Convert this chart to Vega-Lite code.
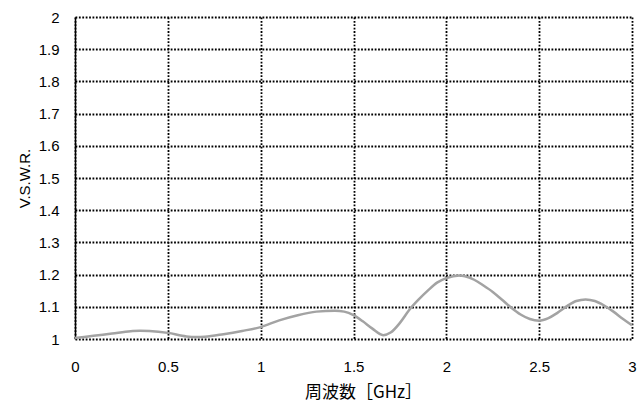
{
  "$schema": "https://vega.github.io/schema/vega-lite/v6.json",
  "width": 557,
  "height": 322,
  "autosize": {"type": "none"},
  "padding": {"left": 75, "top": 17, "right": 6, "bottom": 64},
  "background": "white",
  "config": {
    "view": {"stroke": null},
    "font": "Liberation Sans"
  },
  "data": {
    "values": [
      {"f": 0, "v": 1.003},
      {"f": 0.1, "v": 1.010},
      {"f": 0.2, "v": 1.017},
      {"f": 0.3, "v": 1.024},
      {"f": 0.35, "v": 1.026},
      {"f": 0.4, "v": 1.025},
      {"f": 0.5, "v": 1.019},
      {"f": 0.6, "v": 1.008},
      {"f": 0.65, "v": 1.006},
      {"f": 0.7, "v": 1.007},
      {"f": 0.8, "v": 1.015},
      {"f": 0.9, "v": 1.025},
      {"f": 1.0, "v": 1.037},
      {"f": 1.1, "v": 1.058},
      {"f": 1.2, "v": 1.074},
      {"f": 1.3, "v": 1.085},
      {"f": 1.4, "v": 1.088},
      {"f": 1.45, "v": 1.085},
      {"f": 1.5, "v": 1.074},
      {"f": 1.55, "v": 1.055},
      {"f": 1.6, "v": 1.033},
      {"f": 1.66, "v": 1.012},
      {"f": 1.7, "v": 1.020},
      {"f": 1.75, "v": 1.050},
      {"f": 1.8, "v": 1.090},
      {"f": 1.85, "v": 1.122},
      {"f": 1.9, "v": 1.150},
      {"f": 1.95, "v": 1.175},
      {"f": 2.0, "v": 1.189},
      {"f": 2.07, "v": 1.197},
      {"f": 2.1, "v": 1.195},
      {"f": 2.15, "v": 1.184},
      {"f": 2.2, "v": 1.166},
      {"f": 2.25, "v": 1.146},
      {"f": 2.3, "v": 1.122},
      {"f": 2.35, "v": 1.097},
      {"f": 2.4, "v": 1.076},
      {"f": 2.45, "v": 1.062},
      {"f": 2.5, "v": 1.057},
      {"f": 2.55, "v": 1.065},
      {"f": 2.6, "v": 1.082},
      {"f": 2.65, "v": 1.102},
      {"f": 2.7, "v": 1.118},
      {"f": 2.75, "v": 1.123},
      {"f": 2.8, "v": 1.118},
      {"f": 2.85, "v": 1.104},
      {"f": 2.9, "v": 1.085},
      {"f": 2.95, "v": 1.063},
      {"f": 3.0, "v": 1.043}
    ]
  },
  "mark": {"type": "line", "color": "#a3a3a3", "strokeWidth": 2.5, "interpolate": "monotone"},
  "encoding": {
    "x": {
      "field": "f",
      "type": "quantitative",
      "scale": {"domain": [0, 3], "nice": false, "zero": false},
      "axis": {
        "values": [0, 0.5, 1, 1.5, 2, 2.5, 3],
        "format": "~g",
        "title": "周波数［GHz］",
        "titleFont": "Noto Sans CJK JP",
        "titleFontSize": 17,
        "titleFontWeight": "normal",
        "titleColor": "black",
        "titlePadding": 10,
        "titleX": 288,
        "labelFontSize": 15,
        "labelColor": "black",
        "labelPadding": 20,
        "labelFlush": false,
        "ticks": false,
        "domain": false,
        "grid": true,
        "gridColor": "black",
        "gridDash": [1.8, 1.6],
        "gridWidth": 1.8,
        "gridOpacity": 1
      }
    },
    "y": {
      "field": "v",
      "type": "quantitative",
      "scale": {"domain": [1, 2], "nice": false, "zero": false},
      "axis": {
        "values": [1, 1.1, 1.2, 1.3, 1.4, 1.5, 1.6, 1.7, 1.8, 1.9, 2],
        "format": "~g",
        "title": "V.S.W.R.",
        "titleFontSize": 15,
        "titleFontWeight": "normal",
        "titleColor": "black",
        "titlePadding": 6,
        "labelFontSize": 15,
        "labelColor": "black",
        "labelPadding": 16,
        "labelFlush": false,
        "ticks": false,
        "domain": true,
        "domainColor": "black",
        "domainWidth": 1.5,
        "grid": true,
        "gridColor": "black",
        "gridDash": [1.8, 1.6],
        "gridWidth": 1.8,
        "gridOpacity": 1
      }
    }
  }
}
